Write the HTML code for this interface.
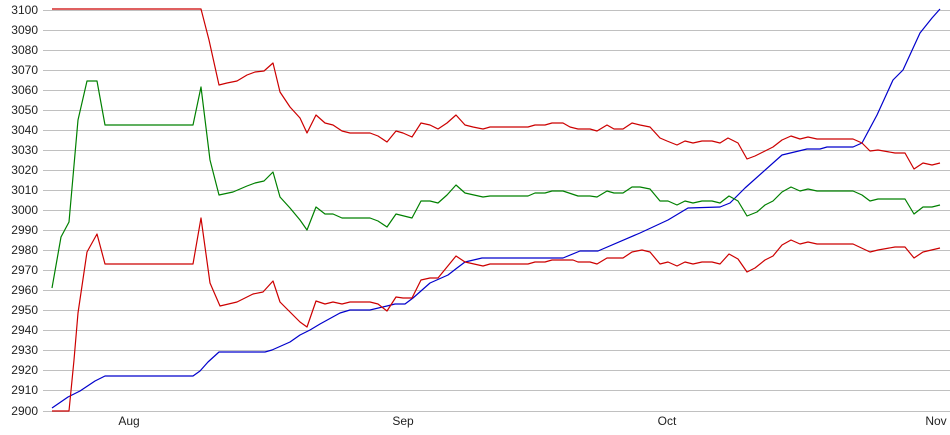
<!DOCTYPE html>
<html><head><meta charset="utf-8"><style>
html,body{margin:0;padding:0;background:#fff;}
svg{display:block;font-family:"Liberation Sans",Arial,sans-serif;}
</style></head><body>
<svg width="950" height="435" viewBox="0 0 950 435" xmlns="http://www.w3.org/2000/svg">
<g stroke="#c0c0c0" stroke-width="1">
<line x1="43" y1="10.5" x2="950" y2="10.5"/><line x1="43" y1="30.5" x2="950" y2="30.5"/><line x1="43" y1="50.5" x2="950" y2="50.5"/><line x1="43" y1="70.5" x2="950" y2="70.5"/><line x1="43" y1="90.5" x2="950" y2="90.5"/><line x1="43" y1="110.5" x2="950" y2="110.5"/><line x1="43" y1="130.5" x2="950" y2="130.5"/><line x1="43" y1="150.5" x2="950" y2="150.5"/><line x1="43" y1="170.5" x2="950" y2="170.5"/><line x1="43" y1="190.5" x2="950" y2="190.5"/><line x1="43" y1="210.5" x2="950" y2="210.5"/><line x1="43" y1="230.5" x2="950" y2="230.5"/><line x1="43" y1="250.5" x2="950" y2="250.5"/><line x1="43" y1="270.5" x2="950" y2="270.5"/><line x1="43" y1="290.5" x2="950" y2="290.5"/><line x1="43" y1="310.5" x2="950" y2="310.5"/><line x1="43" y1="330.5" x2="950" y2="330.5"/><line x1="43" y1="350.5" x2="950" y2="350.5"/><line x1="43" y1="370.5" x2="950" y2="370.5"/><line x1="43" y1="390.5" x2="950" y2="390.5"/><line x1="43" y1="411.5" x2="950" y2="411.5"/>
</g>
<g font-size="12" fill="#222" text-anchor="end">
<text x="38" y="14">3100</text><text x="38" y="34">3090</text><text x="38" y="54">3080</text><text x="38" y="74">3070</text><text x="38" y="94">3060</text><text x="38" y="114">3050</text><text x="38" y="134">3040</text><text x="38" y="154">3030</text><text x="38" y="174">3020</text><text x="38" y="194">3010</text><text x="38" y="214">3000</text><text x="38" y="234">2990</text><text x="38" y="254">2980</text><text x="38" y="274">2970</text><text x="38" y="294">2960</text><text x="38" y="314">2950</text><text x="38" y="334">2940</text><text x="38" y="354">2930</text><text x="38" y="374">2920</text><text x="38" y="394">2910</text><text x="38" y="415">2900</text>
</g>
<g font-size="12" fill="#222" text-anchor="middle">
<text x="129" y="425">Aug</text><text x="403" y="425">Sep</text><text x="667" y="425">Oct</text><text x="936" y="425">Nov</text>
</g>
<g fill="none" stroke-width="1.2" stroke-linejoin="round">
<polyline stroke="#0000cc" points="52,408 68,397 80,391 95,381 105,376 193,376 200,371 208,362 219,352 265,352 272,350 290,342 300,335 310,330 320,324 340,313 350,310 370,310 387,306 395,304 405,304 413,298 430,283 448,275 457,268 465,262 482,258 563,258 580,251 598,251 640,233 668,220 688,208 720,207 730,203 745,188 782,155 807,149 820,149 827,147 853,147 862,143 877,115 893,80 903,70 920,33 932,18 940,9"/>
<polyline stroke="#008000" points="52,288 61,237 69,222 78,120 87,81 97,81 105,125 193,125 201,87 210,160 219,195 233,192 247,186 255,183 264,181 273,172 280,197 290,208 300,220 307,230 316,207 325,214 333,214 342,218 370,218 378,221 387,227 396,214 412,218 421,201 430,201 438,203 447,195 456,185 465,193 483,197 490,196 528,196 535,193 545,193 552,191 563,191 578,196 590,196 597,197 607,191 614,193 623,193 632,187 640,187 650,189 660,201 668,201 677,205 685,201 693,203 702,201 712,201 720,203 729,196 738,201 747,216 757,212 765,205 773,201 782,192 791,187 800,191 808,189 817,191 853,191 862,195 870,201 878,199 905,199 914,214 923,207 932,207 940,205"/>
<polyline stroke="#cc0000" points="52,9 201,9 209,40 219,85 227,83 237,81 247,75 255,72 264,71 273,63 280,92 290,107 300,118 307,133 316,115 325,123 333,125 342,131 350,133 370,133 378,136 387,142 396,131 403,133 412,137 421,123 430,125 438,129 447,123 456,115 465,125 473,127 483,129 490,127 528,127 535,125 545,125 552,123 563,123 570,127 578,129 590,129 597,131 607,125 614,129 623,129 632,123 640,125 650,127 660,138 667,141 677,145 685,141 693,143 702,141 712,141 720,143 728,138 738,143 747,159 755,156 765,151 773,147 782,140 791,136 800,139 808,137 817,139 853,139 862,143 870,151 878,150 895,153 905,153 914,169 923,163 932,165 940,163"/>
<polyline stroke="#cc0000" points="52,411 69,411 74,360 78,313 87,252 97,234 105,264 193,264 201,218 210,283 220,306 237,302 253,294 263,292 273,281 280,302 290,312 300,322 307,327 316,301 325,304 333,302 342,304 350,302 370,302 378,304 387,311 396,297 403,298 412,298 421,280 430,278 438,278 447,267 456,256 465,262 483,266 490,264 528,264 535,262 545,262 552,260 573,260 578,262 590,262 597,264 607,258 623,258 632,252 642,250 650,252 660,264 668,262 677,266 685,262 693,264 702,262 712,262 720,264 729,254 738,259 747,272 755,268 765,260 773,256 782,245 791,240 800,244 808,242 817,244 853,244 870,252 878,250 895,247 905,247 914,258 923,252 940,248"/>
</g>
</svg>
</body></html>
